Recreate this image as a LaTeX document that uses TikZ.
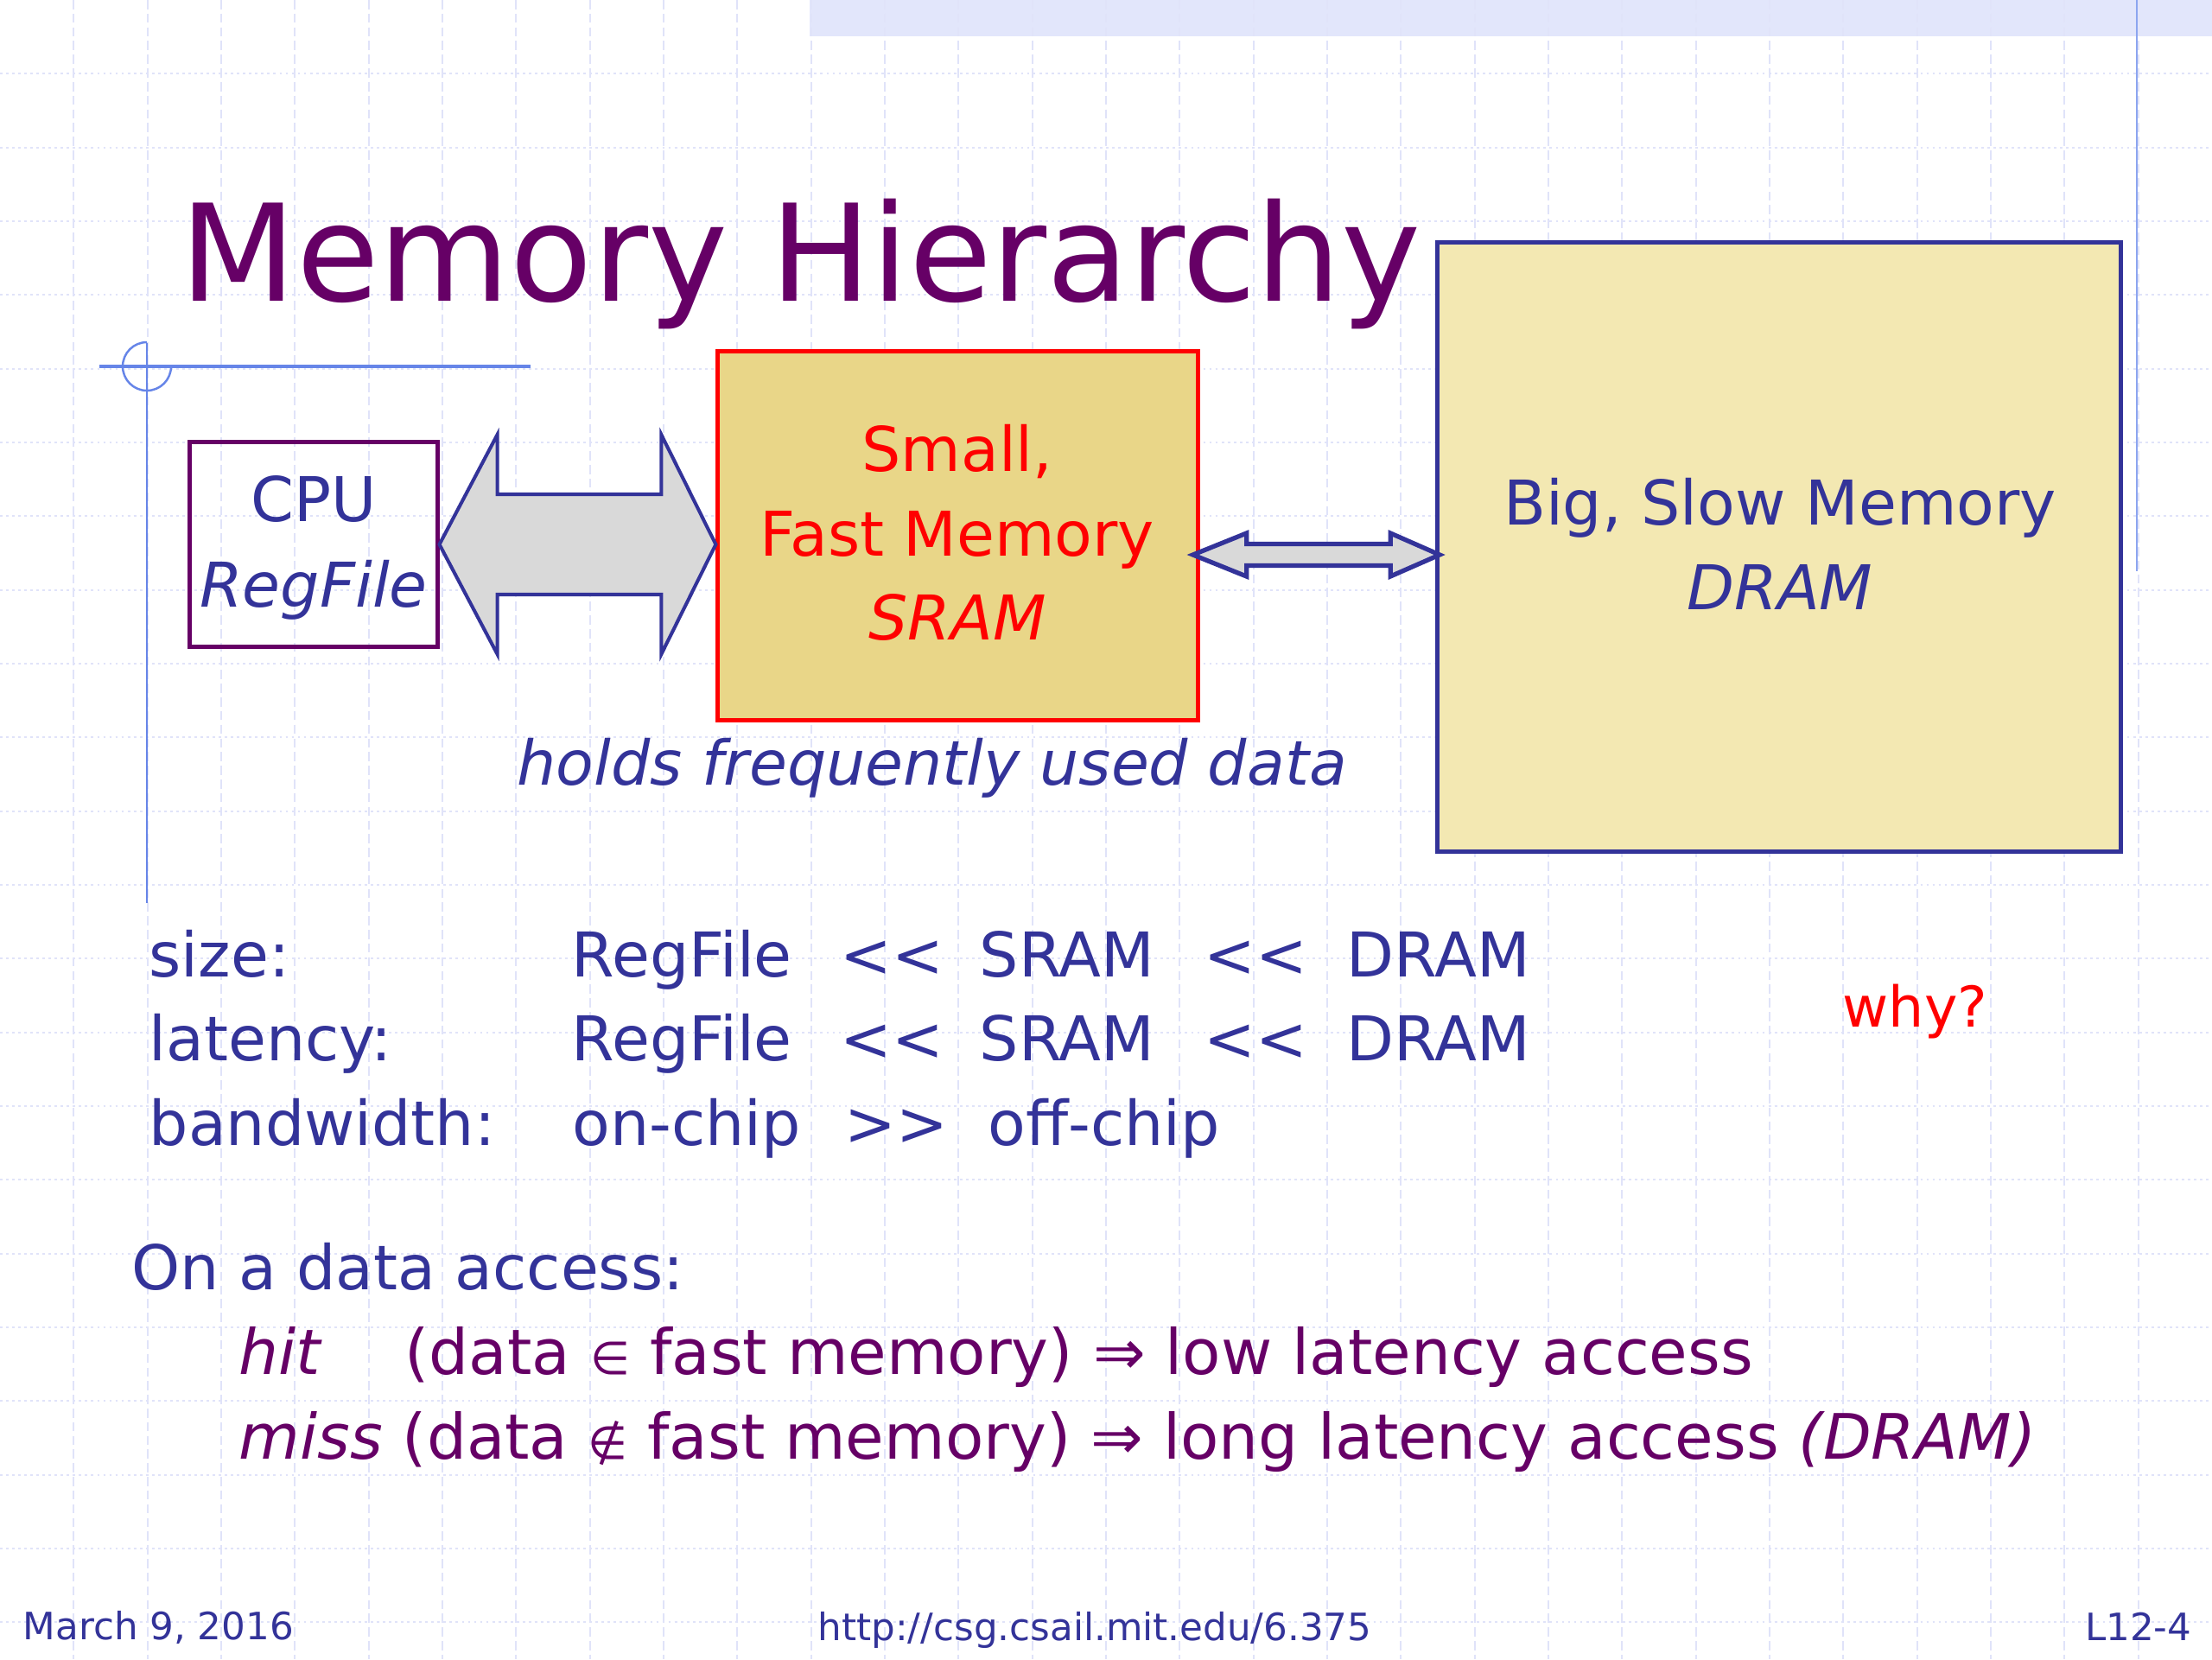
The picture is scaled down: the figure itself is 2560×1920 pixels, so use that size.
\documentclass[tikz,border=0pt]{standalone}
\usepackage{fontspec}
\setmainfont{DejaVu Sans}
\usetikzlibrary{calc}
\definecolor{ttl}{HTML}{660066}
\definecolor{dblue}{HTML}{333399}
\definecolor{sramfill}{RGB}{233,214,136}
\definecolor{dramfill}{RGB}{243,232,178}
\definecolor{arrgrey}{RGB}{217,217,217}
\definecolor{gridc}{RGB}{224,227,249}
\definecolor{bandc}{RGB}{226,230,251}
\definecolor{ornc}{RGB}{102,133,232}
\definecolor{ornlight}{RGB}{140,165,240}
\newcommand\myfs[1]{\fontsize{#1}{#1}\selectfont}
\tikzset{
  gridv/.style={gridc, line width=0.5pt, dash pattern=on 3pt off 1.5pt},
  gridh/.style={gridc, line width=0.5pt, dash pattern=on 0.8pt off 1.2pt},
  orn/.style={ornc},
  txt/.style={inner sep=0pt, anchor=base, font=\myfs{20.3}},
  btxt/.style={txt, text=dblue},
  ptxt/.style={inner sep=0pt, anchor=base west, text=ttl, font=\myfs{20.6}},
  cpubox/.style={draw=ttl, line width=1.4pt, minimum width=2.86cm, minimum height=2.36cm, inner sep=0pt},
  srambox/.style={draw=red, fill=sramfill, line width=1.4pt, minimum width=5.55cm, minimum height=4.26cm, inner sep=0pt},
  drambox/.style={draw=dblue, fill=dramfill, line width=1.5pt, minimum width=7.90cm, minimum height=7.04cm, inner sep=0pt},
  bigarrow/.style={draw=dblue, fill=arrgrey, line width=1.15pt, line join=miter},
  smallarrow/.style={draw=dblue, fill=arrgrey, line width=1.5pt, line join=miter},
  foot/.style={inner sep=0pt, text=dblue, font=\myfs{12.4}},
}
\begin{document}
\begin{tikzpicture}[x=0.01cm, y=-0.01cm]
\useasboundingbox (0,0) rectangle (2560,1920);
\fill[white] (0,0) rectangle (2560,1920);
% top band
\fill[bandc] (937,0) rectangle (2560,42);
% grid
\foreach \i in {1,...,29} \draw[gridv] (\i*85.333,0) -- (\i*85.333,1920);
\foreach \j in {1,...,22} \draw[gridh] (0,\j*85.333) -- (2560,\j*85.333);
% ornaments
\draw[orn, line width=1.1pt] (115,424) -- (614,424);
\draw[orn, line width=0.7pt] (170,397) -- (170,1045);
\draw[orn, line width=0.7pt] (198,424) arc[start angle=0, end angle=270, radius=28];
\draw[ornlight, line width=0.8pt] (2473,0) -- (2473,661);

% title
\node[inner sep=0pt, anchor=base west, text=ttl, font=\myfs{44.3}] (title) at (208,348) {Memory Hierarchy};

% boxes
\node[cpubox] (cpu) at (363,630) {};
\node[srambox] (sram) at (1108.5,620) {};
\node[drambox] (dram) at (2059,633) {};

% big double arrow CPU <-> SRAM
\path (cpu.east) coordinate (aL) (sram.west |- cpu.east) coordinate (aR);
\draw[bigarrow] (aL) -- ++(67,-127) -- ++(0,69) -- ($(aR)+(-63,-58)$) -- ++(0,-69) -- (aR)
  -- ++(-63,127) -- ++(0,-69) -- ($(aL)+(67,58)$) -- ++(0,69) -- cycle;

% small double arrow SRAM <-> DRAM
\path ($(sram.east)+(-8,22)$) coordinate (bL);
\path ($(dram.west |- bL)+(5,0)$) coordinate (bR);
\draw[smallarrow] (bL) -- ++(62,-25) -- ++(0,12.5) -- ($(bR)+(-57,-12.5)$) -- ++(0,-12.5) -- (bR)
  -- ++(-57,25) -- ++(0,-12.5) -- ($(bL)+(62,12.5)$) -- ++(0,12.5) -- cycle;

% box texts
\node[btxt] (cpu1) at (363,603) {CPU};
\node[btxt] (cpu2) at (363,702) {\itshape RegFile};
\node[txt, text=red] (s1) at (1108,545) {Small,};
\node[txt, text=red] (s2) at (1108,643) {Fast Memory};
\node[txt, text=red] (s3) at (1108,740) {\itshape SRAM};
\node[btxt] (d1) at (2060,607) {Big, Slow Memory};
\node[btxt] (d2) at (2060,705) {\itshape DRAM};
\node[btxt, anchor=base west] (holds) at (598,908) {\itshape holds frequently used data};

% table
\node[btxt, anchor=base west] (r1a) at (172,1130) {size:};
\node[btxt, anchor=base west] (r1b) at (661,1130) {RegFile};
\node[btxt, anchor=base west] (r1c) at (972,1130) {<\kern0pt<};
\node[btxt, anchor=base west] (r1d) at (1133,1130) {SRAM};
\node[btxt, anchor=base west] (r1e) at (1393,1130) {<\kern0pt<};
\node[btxt, anchor=base west] (r1f) at (1558,1130) {DRAM};
\node[btxt, anchor=base west] (r2a) at (172,1227) {latency:};
\node[btxt, anchor=base west] (r2b) at (661,1227) {RegFile};
\node[btxt, anchor=base west] (r2c) at (972,1227) {<\kern0pt<};
\node[btxt, anchor=base west] (r2d) at (1133,1227) {SRAM};
\node[btxt, anchor=base west] (r2e) at (1393,1227) {<\kern0pt<};
\node[btxt, anchor=base west] (r2f) at (1558,1227) {DRAM};
\node[btxt, anchor=base west] (r3a) at (172,1325) {bandwidth:};
\node[btxt, anchor=base west] (r3b) at (662,1325) {on-chip};
\node[btxt, anchor=base west] (r3c) at (977,1325) {>\kern0pt>};
\node[btxt, anchor=base west] (r3d) at (1143,1325) {off-chip};

\node[txt, anchor=base west, text=red, font=\myfs{18.5}] (why) at (2132,1188) {why?};

% data access
\node[btxt, anchor=base west] (acc) at (152,1492) {On a data access:};
\node[ptxt] (hit) at (276,1590) {\itshape hit};
\node[ptxt] (hitr) at (468,1590) {(data {\myfs{15}∈} fast memory) ⇒ low latency access};
\node[ptxt] (miss) at (276,1688) {\textit{miss} (data {\myfs{15}∉} fast memory) ⇒ long latency access \textit{(DRAM)}};

% footer
\node[foot, anchor=base west] (date) at (26,1897) {March 9, 2016};
\node[foot, anchor=base west] (url) at (946,1898) {http://csg.csail.mit.edu/6.375};
\node[foot, anchor=base east] (pg) at (2537,1898) {L12-4};
\end{tikzpicture}
\end{document}
